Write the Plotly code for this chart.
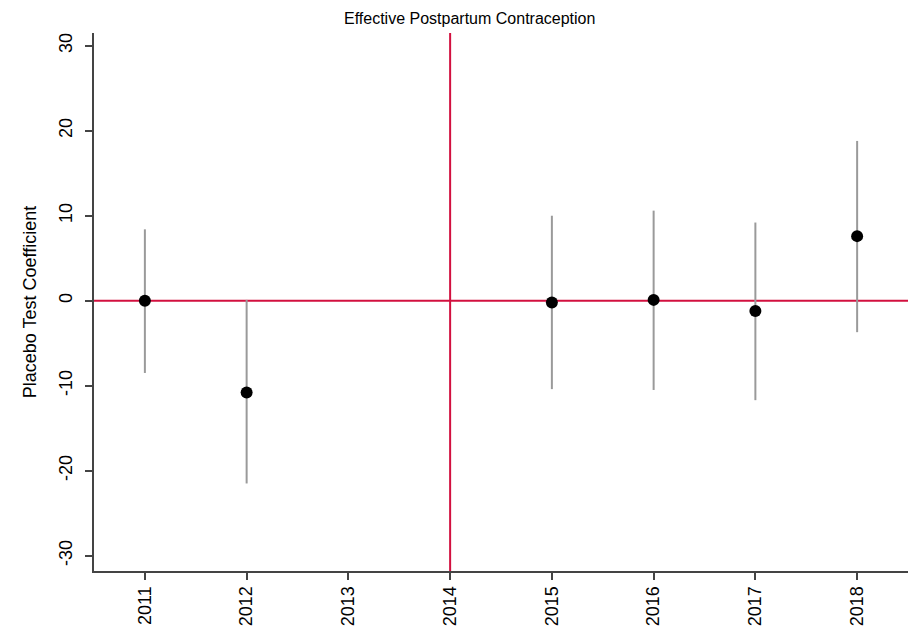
import plotly.graph_objects as go

years = [2011, 2012, 2015, 2016, 2017, 2018]
coef = [0.0, -10.8, -0.2, 0.1, -1.2, 7.6]
ci_low = [-8.5, -21.5, -10.4, -10.5, -11.7, -3.7]
ci_high = [8.4, 0.1, 10.0, 10.6, 9.2, 18.8]
x_ticks = [2011, 2012, 2013, 2014, 2015, 2016, 2017, 2018]
y_ticks = [-30, -20, -10, 0, 10, 20, 30]
event_year = 2014

FONT = "Liberation Sans, Arial, Helvetica, sans-serif"
RED = "#D2103F"

fig = go.Figure()
fig.add_trace(go.Scatter(
    x=years, y=coef, mode="markers",
    marker=dict(color="black", size=12),
    error_y=dict(type="data", symmetric=False,
                 array=[h - c for h, c in zip(ci_high, coef)],
                 arrayminus=[c - l for c, l in zip(coef, ci_low)],
                 color="#9a9a9a", thickness=2, width=0),
    showlegend=False,
))
fig.add_hline(y=0, line=dict(color=RED, width=2), layer="below")
fig.add_vline(x=event_year, line=dict(color=RED, width=2), layer="below")

fig.update_layout(
    width=919, height=635,
    margin=dict(l=94, r=11, t=33, b=64, autoexpand=False),
    paper_bgcolor="white", plot_bgcolor="white",
    font=dict(family=FONT, color="black", size=18),
    title=dict(text="Effective Postpartum Contraception", x=469.7 / 919, xanchor="center",
               y=1 - 18 / 635, yanchor="middle", yref="container",
               font=dict(size=16, family=FONT, color="black")),
    xaxis=dict(range=[2010.5, 2018.5], tickvals=x_ticks, ticktext=[str(v) for v in x_ticks],
               tickangle=-90, ticks="outside", ticklen=7, tickwidth=2, tickcolor="#444",
               showline=True, linecolor="#444", linewidth=2, showgrid=False, zeroline=False,
               tickfont=dict(size=18), ticklabelstandoff=-1, automargin=False),
    yaxis=dict(range=[-31.8, 31.5], tickvals=y_ticks, ticktext=[str(v) for v in y_ticks],
               tickangle=-90, ticks="outside", ticklen=7, tickwidth=2, tickcolor="#444",
               showline=True, linecolor="#444", linewidth=2, showgrid=False, zeroline=False,
               tickfont=dict(size=18), ticklabelstandoff=6, automargin=False,
               title=dict(text="Placebo Test Coefficient", font=dict(size=18), standoff=14)),
)

fig.write_html("out.html")
